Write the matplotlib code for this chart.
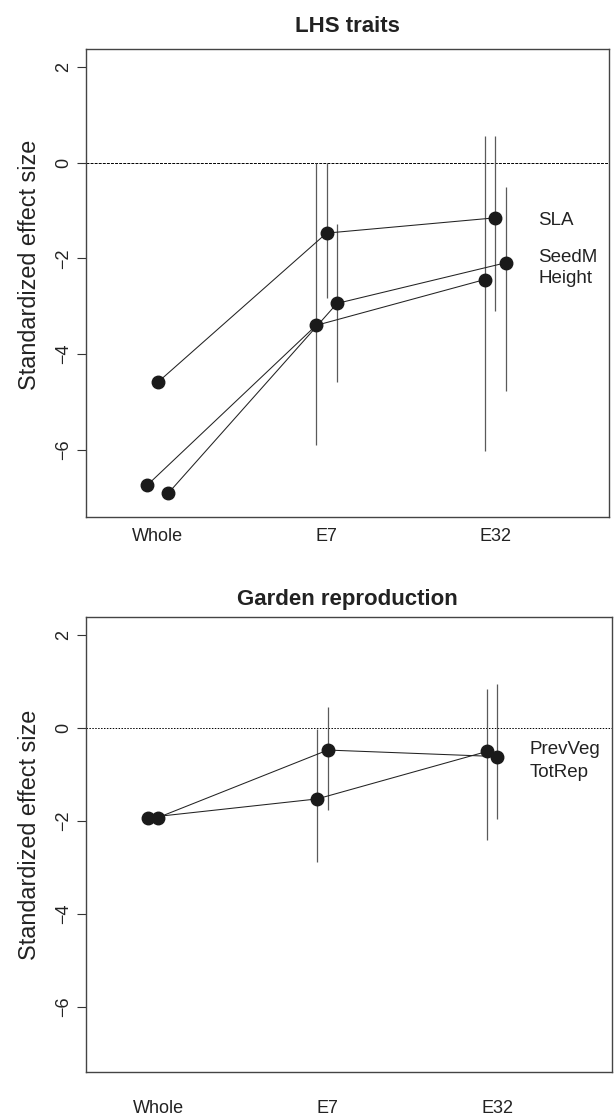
import numpy as np
import matplotlib
matplotlib.use("Agg")
import matplotlib.pyplot as plt

plt.rcParams['font.family'] = ['Liberation Sans', 'DejaVu Sans']

groups = ["Whole", "E7", "E32"]
yticks = [-6, -4, -2, 0, 2]

# LHS traits panel
top_title = "LHS traits"
top_names = ["Height", "SLA", "SeedM"]
top_mean = [[-6.74, -3.40, -2.44],
            [-4.59, -1.47, -1.15],
            [-6.91, -2.94, -2.09]]
top_lo = [[np.nan, -5.90, -6.02],
          [np.nan, -2.82, -3.09],
          [np.nan, -4.59, -4.77]]
top_hi = [[np.nan, -0.01, 0.57],
          [np.nan, -0.01, 0.57],
          [np.nan, -1.27, -0.50]]
top_label_names = ["SLA", "SeedM", "Height"]
top_label_y = [-1.20, -1.97, -2.42]

# Garden reproduction panel
bot_title = "Garden reproduction"
bot_names = ["PrevVeg", "TotRep"]
bot_mean = [[-1.93, -1.53, -0.51],
            [-1.93, -0.48, -0.62]]
bot_lo = [[np.nan, -2.88, -2.41],
          [np.nan, -1.77, -1.96]]
bot_hi = [[np.nan, -0.02, 0.84],
          [np.nan, 0.44, 0.93]]
bot_label_names = ["PrevVeg", "TotRep"]
bot_label_y = [-0.46, -0.96]

W, H = 614, 1120
fig = plt.figure(figsize=(W / 100, H / 100), dpi=100)

def px_rect(l, t, r, b):
    return [l / W, 1 - b / H, (r - l) / W, (b - t) / H]

def draw(ax, means, los, his, offsets, lab_names, lab_y, lab_x, zero_ls, xpad):
    x = np.arange(1, len(groups) + 1)
    ax.axhline(0, color='black', lw=0.7, ls=zero_ls, zorder=1)
    for m, lo, hi, off in zip(means, los, his, offsets):
        xs = x + off
        ax.vlines(xs, lo, hi, color='#5a5a5a', lw=0.9, zorder=2)
        ax.plot(xs, m, color='#222222', lw=0.75, zorder=3)
        ax.plot(xs, m, 'o', color='#1a1a1a', ms=9, zorder=4, mec='#1a1a1a')
    for name, yy in zip(lab_names, lab_y):
        ax.text(lab_x, yy, name, ha='left', va='center', fontsize=13.5, color='#222222')
    ax.set_xlim(0.575, 3.675)
    ax.set_ylim(-7.40, 2.38)
    ax.set_xticks(x)
    ax.set_xticklabels(groups, fontsize=13, color='#222222')
    ax.tick_params(axis='x', length=0, pad=xpad)
    ax.set_yticks(yticks)
    ax.set_yticklabels([f"{v}".replace('-', '\u2212') for v in yticks], fontsize=13, color='#222222')
    ax.tick_params(axis='y', length=6.3, width=0.8, direction='out', pad=3.7, labelrotation=90, color='#333333')
    for lab in ax.get_yticklabels():
        lab.set_va('center')
    for s in ax.spines.values():
        s.set_color('#444444')
        s.set_linewidth(1.0)

offs3 = [-0.062, 0.0, 0.062]
offs2 = [-0.062, 0.0]

ax1 = fig.add_axes(px_rect(86, 49, 609.3, 516.7))
draw(ax1, top_mean, top_lo, top_hi, offs3, top_label_names, top_label_y, 3.255, (0, (3, 1.2)), 8.2)
ax2 = fig.add_axes(px_rect(86, 617, 612, 1072))
draw(ax2, bot_mean, bot_lo, bot_hi, offs2, bot_label_names, bot_label_y, 3.19, (0, (1.5, 1.5)), 20.5)

fig.text(347 / W, 1 - 26 / H, top_title, ha='center', va='center', fontsize=16, fontweight='bold', color='#222222')
fig.text(347 / W, 1 - 599 / H, bot_title, ha='center', va='center', fontsize=16, fontweight='bold', color='#222222')
fig.text(30 / W, 1 - 265 / H, "Standardized effect size", rotation=90, ha='center', va='center', fontsize=16.8, color='#222222')
fig.text(30 / W, 1 - 835 / H, "Standardized effect size", rotation=90, ha='center', va='center', fontsize=16.8, color='#222222')

fig.savefig("out.png", dpi=100)
